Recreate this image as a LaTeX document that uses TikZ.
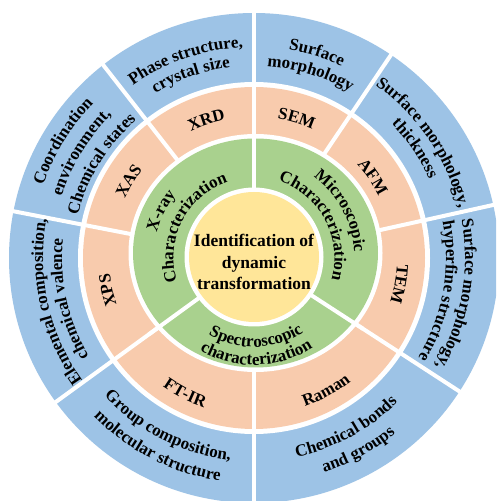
\documentclass[tikz,border=0pt]{standalone}
\usepackage{fontspec}
\setmainfont{Liberation Serif}
\usetikzlibrary{decorations.text}
\definecolor{ringblue}{HTML}{9DC3E6}
\definecolor{ringsalmon}{HTML}{F8CBAD}
\definecolor{ringgreen}{HTML}{A9D18E}
\definecolor{ringyellow}{HTML}{FFE699}
\newcommand\rfont{\bfseries\fontsize{17}{19}\selectfont}
% text on an arc, tops pointing outward (reads clockwise)
\newcommand\toptext[3]{\path[decorate,decoration={text along path,text align=center,text={|\rfont|#3}}]
  ({#1+80}:#2pt) arc[start angle={#1+80},end angle={#1-80},radius=#2pt];}
% text on an arc, tops pointing inward (reads counter-clockwise)
\newcommand\bottext[3]{\path[decorate,decoration={text along path,text align=center,text={|\rfont|#3}}]
  ({#1-80}:#2pt) arc[start angle={#1-80},end angle={#1+80},radius=#2pt];}
\begin{document}
\begin{tikzpicture}[
  divider/.style={draw=white,line width=4pt},
  centertext/.style={align=center,inner sep=0pt,font=\bfseries\fontsize{17.5}{21.5}\selectfont}
]
\useasboundingbox (0,0) rectangle (496pt,501pt);
\fill[white] (0,0) rectangle (496pt,501pt);
\clip (0,0) rectangle (496pt,501pt);
\begin{scope}[shift={(254pt,243pt)}]
\coordinate (O) at (0,0);
% outer blue ring
\fill[ringblue] (O) circle[radius=245pt];
\fill[white] (O) circle[radius=176pt];
% salmon ring
\fill[ringsalmon] (O) circle[radius=171pt];
\foreach \a in {12.5,56,90,128,169,216,270,327} \draw[divider] (O) -- (\a:250pt);
% green ring
\fill[white] (1.5pt,5pt) ellipse[x radius=127pt,y radius=119pt];
\fill[ringgreen] (1.5pt,5pt) ellipse[x radius=122.5pt,y radius=114.5pt];
\foreach \a in {90,216,327} \draw[divider] (O) -- (\a:130pt);
% yellow core
\fill[white] (0,1pt) circle[radius=69.5pt];
\fill[ringyellow] (0,1pt) circle[radius=65pt];
\node[centertext] (core) at (0,-4pt) {Identification of\\dynamic\\transformation};

% green ring labels
\toptext{153}{100.5}{X-ray}
\toptext{153}{80.5}{Characterization}
\toptext{28.5}{100.5}{Microscopic}
\toptext{28.5}{80.5}{Characterization}
\bottext{271.5}{89}{Spectroscopic}
\bottext{271.5}{107}{characterization}

% salmon ring labels
\toptext{73}{141.5}{SEM}
\toptext{109}{141.5}{XRD}
\toptext{148.5}{142}{XAS}
\toptext{192.5}{145}{XPS}
\bottext{243}{157.5}{FT-IR}
\bottext{298.5}{157}{Raman}
\toptext{349.75}{143}{TEM}
\toptext{34.25}{139}{AFM}

% blue ring labels
\toptext{73}{211}{Surface}
\toptext{73}{192}{morphology}
\toptext{109}{211}{Phase structure,}
\toptext{109}{192}{crystal size}
\toptext{148.5}{223}{Coordination}
\toptext{148.5}{202}{environment,}
\toptext{148.5}{181}{Chemical states}
\toptext{192.5}{211}{Elemental composition,}
\toptext{192.5}{192}{chemical valence}
\bottext{243}{203.5}{Group composition,}
\bottext{243}{225.5}{molecular structure}
\bottext{298.5}{203.5}{Chemical bonds}
\bottext{298.5}{225.5}{and groups}
\toptext{349.75}{211}{Surface morphology,}
\toptext{349.75}{192}{hyperfine structure}
\toptext{34.25}{211}{Surface morphology,}
\toptext{34.25}{192}{thickness}
\end{scope}
\end{tikzpicture}
\end{document}
